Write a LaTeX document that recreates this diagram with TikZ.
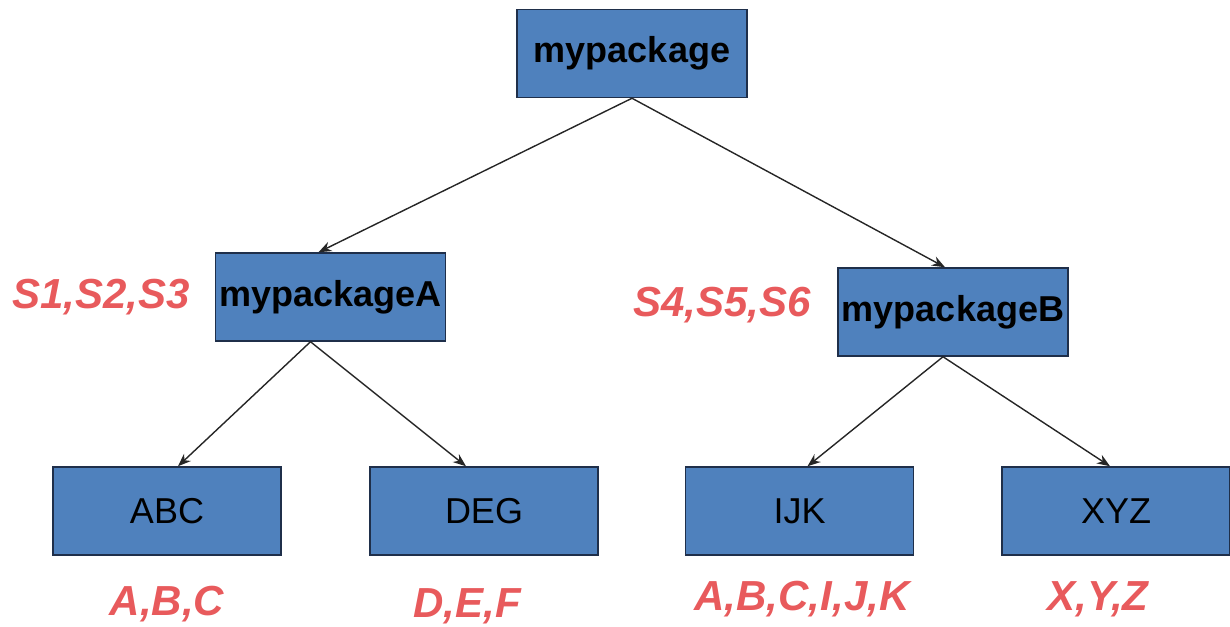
\documentclass[tikz,border=0pt]{standalone}
\usepackage{fontspec}
\setmainfont{Liberation Sans}
\usetikzlibrary{arrows.meta}
\definecolor{boxfill}{HTML}{4F81BD}
\definecolor{boxline}{HTML}{1F2F4A}
\definecolor{lblred}{HTML}{E85A5C}
\tikzset{
  pkg/.style={draw=boxline, line width=1.5pt, fill=boxfill, minimum width=230pt, minimum height=88pt, inner sep=0pt, font=\fontsize{36}{40}\selectfont\bfseries},
  leaf/.style={pkg, minimum width=228pt, font=\fontsize{36}{40}\selectfont},
  lbl/.style={text=lblred, font=\fontsize{42}{46}\selectfont\bfseries\itshape, inner sep=0pt},
  arr/.style={draw=black!85, line width=1.4pt, -{Stealth[length=13pt,width=10pt]}}
}
\begin{document}
\begin{tikzpicture}[x=1pt,y=-1pt]
\useasboundingbox (0,0) rectangle (1230,626);
\node[pkg] (top) at (632,53.5) {mypackage};
\node[pkg] (A) at (330.5,297) {mypackageA};
\node[pkg] (B) at (953,312) {mypackageB};
\node[leaf] (abc) at (167,511) {ABC};
\node[leaf] (deg) at (484,511) {DEG};
\node[leaf] (ijk) at (799.5,511) {IJK};
\node[leaf] (xyz) at (1116,511) {XYZ};
\node[lbl] (lA) at (101,297) {S1,S2,S3};
\node[lbl] (lB) at (722,305) {S4,S5,S6};
\node[lbl] (labc) at (167,604) {A,B,C};
\node[lbl] (ldeg) at (467,606) {D,E,F};
\node[lbl] (lijk) at (802,599) {A,B,C,I,J,K};
\node[lbl] (lxyz) at (1098,599) {X,Y,Z};
\draw[arr] (top.south) -- ([xshift=-12pt]A.north);
\draw[arr] (top.south) -- ([xshift=-8pt]B.north);
\draw[arr] ([xshift=-20pt]A.south) -- ([xshift=11pt]abc.north);
\draw[arr] ([xshift=-20pt]A.south) -- ([xshift=-18pt]deg.north);
\draw[arr] ([xshift=-10pt]B.south) -- ([xshift=8pt]ijk.north);
\draw[arr] ([xshift=-10pt]B.south) -- ([xshift=-6pt]xyz.north);
\end{tikzpicture}
\end{document}
